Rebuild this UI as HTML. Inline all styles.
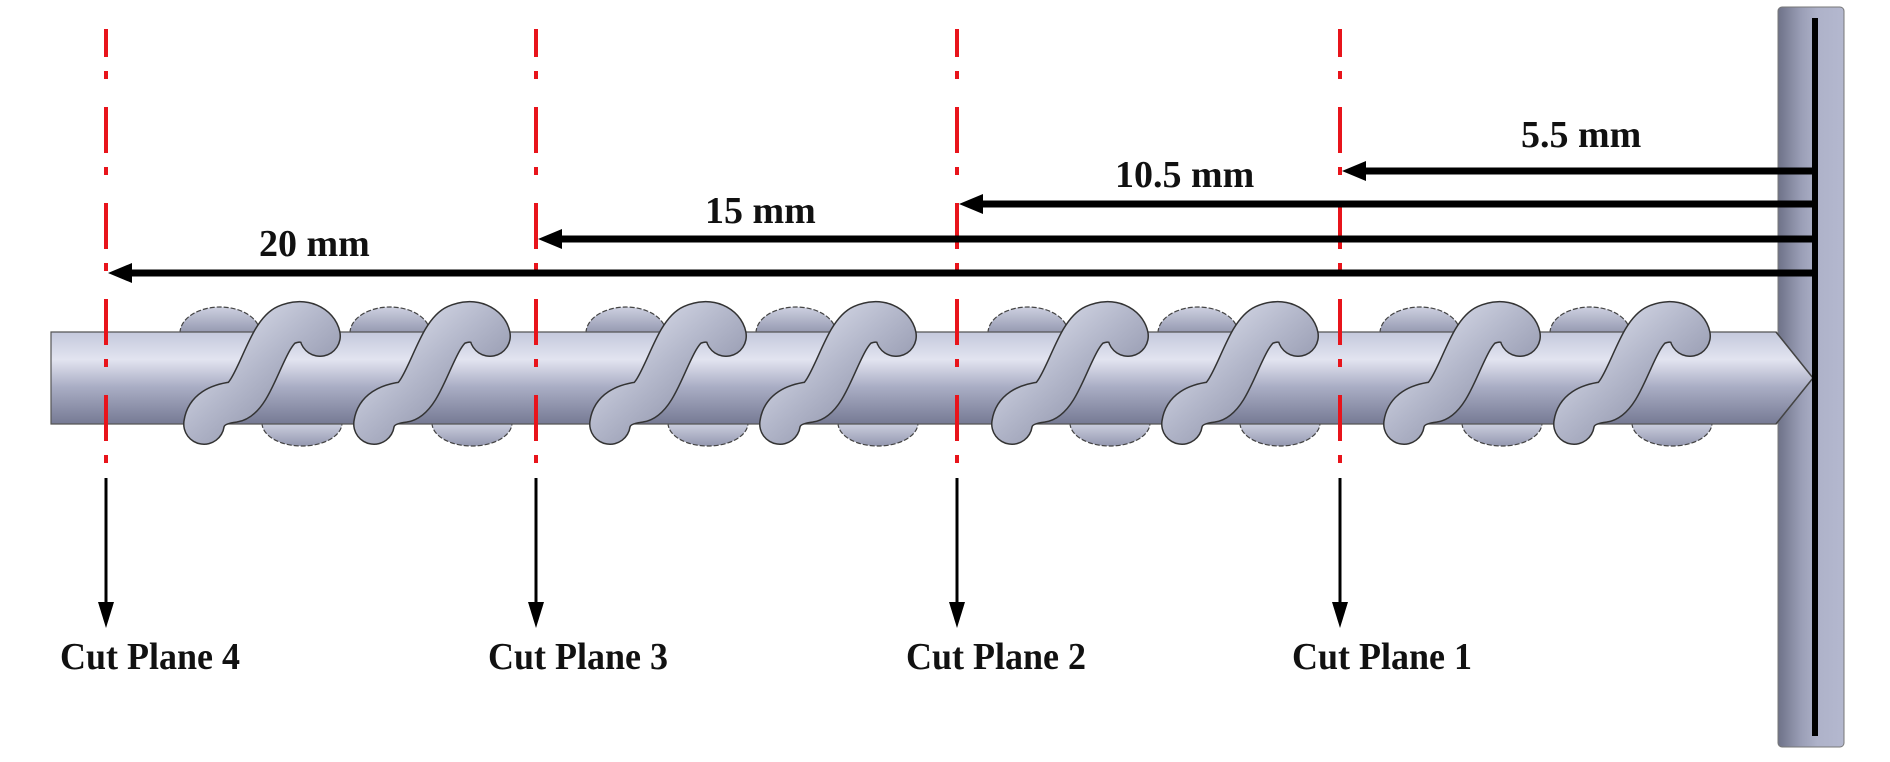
<!DOCTYPE html>
<html><head><meta charset="utf-8"><style>
html,body{margin:0;padding:0;background:#fff;}
svg{display:block;}
text{font-family:"Liberation Serif",serif;font-weight:bold;fill:#111;}
</style></head><body>
<svg id="fig" width="1890" height="762" viewBox="0 0 1890 762">
<defs>
<linearGradient id="shaftG" x1="0" y1="0" x2="0" y2="1">
<stop offset="0" stop-color="#c4c8dc"/><stop offset="0.3" stop-color="#e2e4f0"/><stop offset="0.6" stop-color="#a9adc4"/><stop offset="1" stop-color="#767a94"/>
</linearGradient>
<linearGradient id="wallG" x1="0" y1="0" x2="1" y2="0">
<stop offset="0" stop-color="#6e7288"/><stop offset="0.35" stop-color="#9a9eb6"/><stop offset="0.6" stop-color="#aeb2c9"/><stop offset="1" stop-color="#b4b8cf"/>
</linearGradient>
<linearGradient id="coilG" x1="0" y1="0" x2="1" y2="1">
<stop offset="0" stop-color="#dcdfec"/><stop offset="0.45" stop-color="#b4b8cb"/><stop offset="1" stop-color="#868aa2"/>
</linearGradient>
<linearGradient id="domeG" x1="0" y1="0" x2="0" y2="1">
<stop offset="0" stop-color="#cdd0e0"/><stop offset="1" stop-color="#9498b0"/>
</linearGradient>
</defs>
<g id="wall">
<rect x="1778" y="7" width="66" height="740" rx="4" fill="url(#wallG)" stroke="#777" stroke-width="1"/>
</g>
<g id="domes"></g>
<g id="shaft">
<path d="M51 332 L1776 332 L1813 378 L1776 424 L51 424 Z" fill="url(#shaftG)" stroke="#555" stroke-width="1.2"/>
<path d="M1776 332 L1813 378 L1776 424" fill="none" stroke="#444" stroke-width="1.5"/>
</g>
<g id="coils"></g>
<line x1="1815" y1="18" x2="1815" y2="736" stroke="#000" stroke-width="6"/>
<g id="planes"></g>
</svg>
<script>
const NS="http://www.w3.org/2000/svg";
const coilCenters=[262,432,668,838,1070,1240,1462,1632];
const planeNames=["Cut Plane 1","Cut Plane 2","Cut Plane 3","Cut Plane 4"];
const distLabels=["5.5 mm","10.5 mm","15 mm","20 mm"];
const planeX=[1340,957,536,106];
const arrowY=[171,204,239,273];
const labelX=[1521,1115,705,259];
const labelY=[147,187,223,256];
const nameX=[1292,906,488,60];
function mk(tag,attrs,parent){const e=document.createElementNS(NS,tag);for(const k in attrs)e.setAttribute(k,attrs[k]);parent.appendChild(e);return e;}
const domes=document.getElementById('domes'),coils=document.getElementById('coils'),planes=document.getElementById('planes');
coilCenters.forEach((c,i)=>{
  const t=mk('path',{d:`M${c-82} 333 A40 26 0 0 1 ${c-2} 333 Z`,fill:'url(#domeG)',stroke:'#444','stroke-width':1.2,'stroke-dasharray':'5 2'},domes);
  
  
  const b=mk('path',{d:`M${c} 423 A40 23 0 0 0 ${c+80} 423 Z`,fill:'url(#domeG)',stroke:'#444','stroke-width':1.2,'stroke-dasharray':'5 2'},domes);
  
  
  const d=`M${c-58} 424 C${c-56} 410 ${c-44} 404 ${c-28} 402 C${c-8} 399 ${c+4} 334 ${c+24} 325 C${c+42} 317 ${c+56} 326 ${c+58} 336`;
  const o=mk('path',{d:d,fill:'none',stroke:'#333','stroke-width':42,'stroke-linecap':'round'},coils);
  
  
  const f=mk('path',{d:d,fill:'none',stroke:'url(#coilG)','stroke-width':39,'stroke-linecap':'round'},coils);
  
  
});
planeX.forEach((x,i)=>{
  const r=mk('line',{x1:x,y1:29,x2:x,y2:472,stroke:'#e8141b','stroke-width':4,'stroke-dasharray':'46 14 8 28','stroke-dashoffset':18},planes);
  
  
  const a=mk('line',{x1:x,y1:478,x2:x,y2:605,stroke:'#000','stroke-width':3},planes);
  
  
  const ah=mk('path',{d:`M${x-8} 602 L${x+8} 602 L${x} 628 Z`,fill:'#000'},planes);
  
  
  const nt=mk('text',{x:nameX[i],y:669,'font-size':38,textLength:180,lengthAdjust:'spacingAndGlyphs'},planes);
  nt.textContent=planeNames[i];
  
  
  const y=arrowY[i];
  const hl=mk('line',{x1:1815,y1:y,x2:x+14,y2:y,stroke:'#000','stroke-width':7},planes);
  
  
  const hh=mk('path',{d:`M${x+2} ${y} L${x+26} ${y-10} L${x+26} ${y+10} Z`,fill:'#000'},planes);
  
  
  const lt=mk('text',{x:labelX[i],y:labelY[i],'font-size':38},planes);
  lt.textContent=distLabels[i];
  
  
});
</script>
</body></html>
